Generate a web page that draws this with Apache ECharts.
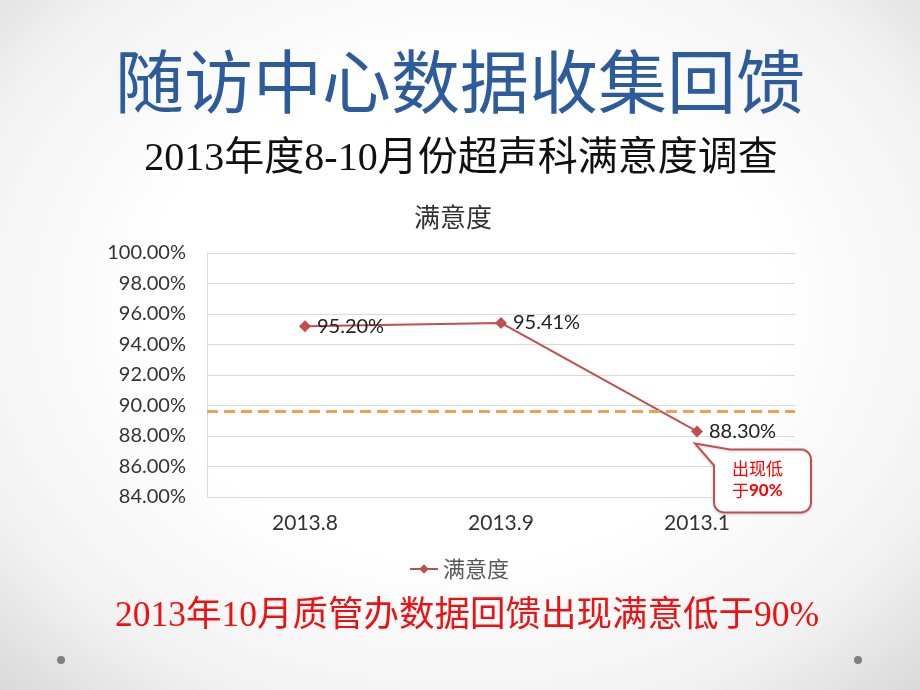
<!DOCTYPE html>
<html>
<head>
<meta charset="utf-8">
<script src="https://cdn.jsdelivr.net/npm/echarts@6/dist/echarts.min.js"></script>
<style>
html,body{margin:0;padding:0;width:920px;height:690px;overflow:hidden;}
body{background:radial-gradient(ellipse 75% 80% at 50% 45%, #ffffff 45%, #f2f2f2 75%, #d4d4d4 100%);}
#c{width:920px;height:690px;}
</style>
</head>
<body>
<div id="c"></div>
<script>
const mainTitle = '随访中心数据收集回馈';
const subTitle = '2013年度8-10月份超声科满意度调查';
const chartTitle = '满意度';
const footerText = '2013年10月质管办数据回馈出现满意低于90%';
const seriesName = '满意度';
const categories = ['2013.8', '2013.9', '2013.1'];
const satisfaction = [95.20, 95.41, 88.30];
const threshold = 89.65;
const yMin = 84, yMax = 100, yStep = 2;
const calloutLines = ['出现低', '于', '90%'];

const chart = echarts.init(document.getElementById('c'), null, {renderer: 'canvas'});
const cjk = '"Noto Sans CJK SC", sans-serif';
const serifMix = '"Liberation Serif", "Noto Sans CJK SC", serif';
const latin = 'Lato, "Noto Sans CJK SC", sans-serif';

const option = {
  backgroundColor: 'transparent',
  animation: false,
  title: [
    {text: mainTitle, left: 455, textAlign: 'center', top: 42,
     textStyle: {fontFamily: cjk, fontSize: 69, fontWeight: 'normal', color: '#2d5c9c'}},
    {text: subTitle, left: 456, textAlign: 'center', top: 135,
     textStyle: {fontFamily: serifMix, fontSize: 40, fontWeight: 'normal', color: '#111'}},
    {text: chartTitle, left: 448, textAlign: 'center', top: 199,
     textStyle: {fontFamily: cjk, fontSize: 26, fontWeight: 'normal', color: '#333'}},
    {text: footerText, left: 462, textAlign: 'center', top: 594,
     textStyle: {fontFamily: serifMix, fontSize: 35.5, fontWeight: 'normal', color: '#ee1111'}}
  ],
  legend: {
    data: [seriesName], left: 404, top: 553,
    itemWidth: 28, itemHeight: 12,
    textStyle: {fontFamily: cjk, fontSize: 22, color: '#595959'}
  },
  grid: {left: 207, right: 125, top: 253, bottom: 193, containLabel: false},
  xAxis: {
    type: 'category', data: categories, boundaryGap: true,
    axisLine: {show: false}, axisTick: {show: false},
    axisLabel: {fontFamily: latin, fontSize: 21, color: '#333', margin: 16}
  },
  yAxis: {
    type: 'value', min: yMin, max: yMax, interval: yStep,
    axisLine: {show: true, lineStyle: {color: '#d9d9d9', width: 1}},
    axisTick: {show: false},
    splitLine: {lineStyle: {color: '#d9d9d9', width: 1}},
    axisLabel: {fontFamily: latin, fontSize: 20, color: '#333', margin: 21,
      formatter: v => v.toFixed(2) + '%'}
  },
  series: [{
    name: seriesName, type: 'line', data: satisfaction,
    symbol: 'diamond', symbolSize: 12,
    lineStyle: {color: '#c0504d', width: 2},
    itemStyle: {color: '#c0504d'},
    label: {show: true, position: 'right', distance: 6,
      fontFamily: latin, fontSize: 20, color: '#222',
      formatter: p => p.value.toFixed(2) + '%'},
    markLine: {
      silent: true, symbol: 'none', label: {show: false},
      lineStyle: {color: '#f0a050', width: 3, type: [11, 6]},
      data: [{yAxis: threshold}]
    },
    z: 3
  }]
};
chart.setOption(option);

// Callout anchored to the third data point
const pt = chart.convertToPixel({gridIndex: 0}, [2, satisfaction[2]]);
const L = pt[0] + 17, T = pt[1] + 18, W = 97, H = 63, r = 10;
const tip = [pt[0] - 2, pt[1] + 12];
function arc(cx, cy, a0, a1, n) {
  const out = [];
  for (let i = 0; i <= n; i++) {
    const a = a0 + (a1 - a0) * i / n;
    out.push([cx + r * Math.cos(a), cy + r * Math.sin(a)]);
  }
  return out;
}
const pts = [[L + 16, T]]
  .concat(arc(L + W - r, T + r, -Math.PI / 2, 0, 6))
  .concat(arc(L + W - r, T + H - r, 0, Math.PI / 2, 6))
  .concat(arc(L + r, T + H - r, Math.PI / 2, Math.PI, 6))
  .concat([[L, T + 16], tip]);

chart.setOption({
  graphic: [
    {type: 'polygon', shape: {points: pts}, z: 10,
     style: {fill: '#ffffff', stroke: '#c0504d', lineWidth: 2,
       shadowBlur: 3, shadowColor: 'rgba(0,0,0,0.15)', shadowOffsetY: 1}},
    {type: 'text', left: L + 18, top: T + 11, z: 11,
     style: {
       text: '{a|' + calloutLines[0] + '}\n{a|' + calloutLines[1] + '}{b|' + calloutLines[2] + '}',
       rich: {
         a: {fontFamily: cjk, fontSize: 17, fill: '#ff0000', lineHeight: 22},
         b: {fontFamily: latin, fontSize: 17, fontWeight: 'bold', fill: '#ff0000', lineHeight: 22}
       }
     }},
    {type: 'circle', shape: {cx: 61, cy: 660, r: 4}, style: {fill: '#7f7f7f'}},
    {type: 'circle', shape: {cx: 858, cy: 660, r: 4}, style: {fill: '#7f7f7f'}}
  ]
});
</script>
</body>
</html>
